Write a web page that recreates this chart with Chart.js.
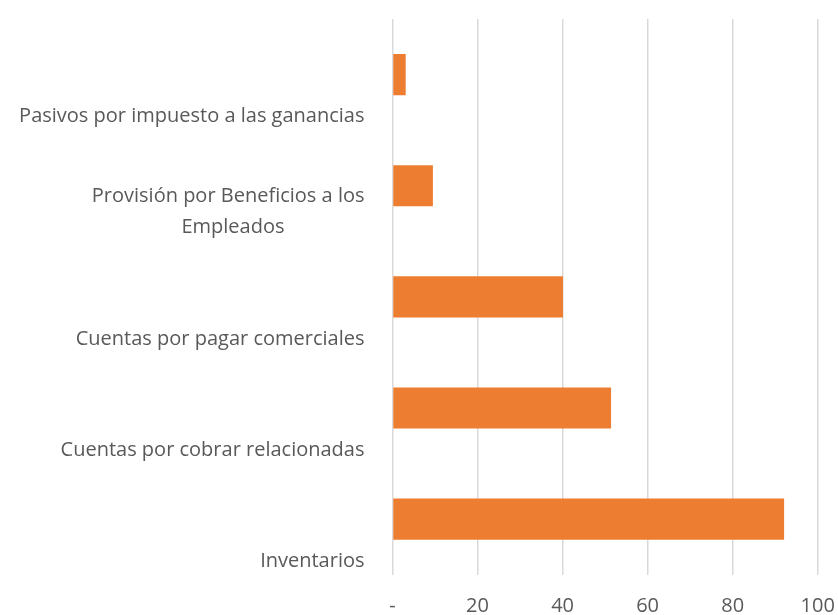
<!DOCTYPE html>
<html>
<head>
<meta charset="utf-8">
<script src="https://cdn.jsdelivr.net/npm/chart.js@4/dist/chart.umd.min.js"></script>
<style>
  html, body { margin: 0; padding: 0; background: #ffffff; }
  #wrap { width: 838px; height: 615px; position: relative; }
</style>
</head>
<body>
<div id="wrap"><canvas id="c" width="838" height="615"></canvas></div>
<script>
// Categories (top to bottom as in the reference)
const categories = [
  'Pasivos por impuesto a las ganancias',
  ['Provisión por Beneficios a los', 'Empleados' + '\u2002'.repeat(8), ''],
  'Cuentas por pagar comerciales',
  'Cuentas por cobrar relacionadas',
  'Inventarios'
];
// Series values
const values = [3.1, 9.5, 40.1, 51.4, 92.1];
// X-axis tick labels
const xTickLabels = ['-', '20', '40', '60', '80', '100'];

const textColor = '#595959';
const fontFamily = '"Open Sans", Lato, sans-serif';

new Chart(document.getElementById('c'), {
  type: 'bar',
  data: {
    labels: categories,
    datasets: [{
      data: values,
      backgroundColor: '#ED7D31',
      borderWidth: 0,
      categoryPercentage: 1.0,
      barPercentage: 0.37
    }]
  },
  options: {
    indexAxis: 'y',
    responsive: false,
    animation: false,
    devicePixelRatio: 1,
    layout: { padding: { top: 19, right: 20.3, bottom: 0, left: 0 } },
    plugins: { legend: { display: false }, tooltip: { enabled: false } },
    scales: {
      x: {
        type: 'linear',
        min: 0,
        max: 100,
        ticks: {
          stepSize: 20,
          color: textColor,
          font: { family: fontFamily, size: 20 },
          padding: 20,
          maxRotation: 0,
          callback: (v, i) => xTickLabels[i]
        },
        grid: { color: '#d9d9d9', lineWidth: 1.5, drawTicks: false },
        border: { display: false },
        afterFit: (s) => { s.height = 40.3; s.paddingLeft = 0; s.paddingRight = 0; }
      },
      y: {
        type: 'category',
        ticks: {
          color: textColor,
          font: { family: fontFamily, size: 20, lineHeight: 1.55 },
          padding: 28,
          labelOffset: 42,
          autoSkip: false
        },
        grid: { display: false, drawTicks: false },
        border: { display: false },
        afterFit: (s) => { s.width = 392.5; s.paddingTop = 0; s.paddingBottom = 0; }
      }
    }
  }
});
</script>
</body>
</html>
